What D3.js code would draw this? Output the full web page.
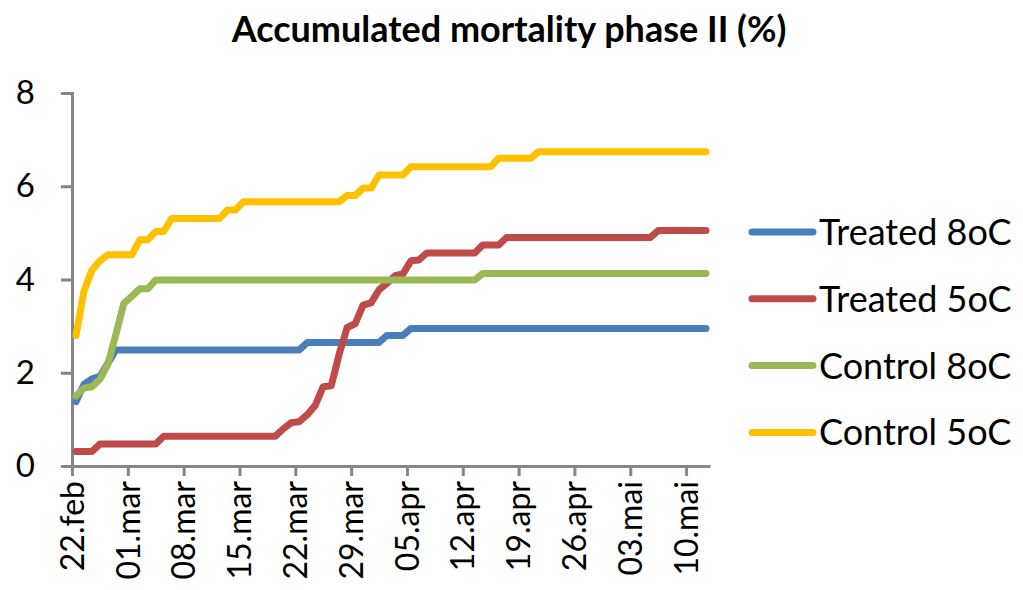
<!DOCTYPE html>
<html>
<head>
<meta charset="utf-8">
<script src="https://cdn.jsdelivr.net/npm/d3@7"></script>
<style>
  body { margin: 0; background: #fff; }
  svg { display: block; font-family: Lato, "Open Sans", sans-serif; }
</style>
</head>
<body>
<svg id="chart"></svg>
<script>
var width = 1023;
var height = 590;

// one value per day, starting 22.feb (80 days)
var startDate = new Date(2011, 1, 22);
var dayCount = 80;
var tickLabels = ['22.feb', '01.mar', '08.mar', '15.mar', '22.mar', '29.mar',
  '05.apr', '12.apr', '19.apr', '26.apr', '03.mai', '10.mai'];
var yTicks = [0, 2, 4, 6, 8];

var treated8 = [1.38, 1.75, 1.87, 1.92, 2.2,
  2.49, 2.49, 2.49, 2.49, 2.49, 2.49, 2.49, 2.49, 2.49, 2.49, 2.49, 2.49,
  2.49, 2.49, 2.49, 2.49, 2.49, 2.49, 2.49, 2.49, 2.49, 2.49, 2.49, 2.49,
  2.65, 2.65, 2.65, 2.65, 2.65, 2.65, 2.65, 2.65, 2.65, 2.65,
  2.8, 2.8, 2.8,
  2.95, 2.95, 2.95, 2.95, 2.95, 2.95, 2.95, 2.95, 2.95, 2.95, 2.95, 2.95,
  2.95, 2.95, 2.95, 2.95, 2.95, 2.95, 2.95, 2.95, 2.95, 2.95, 2.95, 2.95,
  2.95, 2.95, 2.95, 2.95, 2.95, 2.95, 2.95, 2.95, 2.95, 2.95, 2.95, 2.95,
  2.95, 2.95];
var treated5 = [0.31, 0.31, 0.31,
  0.47, 0.47, 0.47, 0.47, 0.47, 0.47, 0.47, 0.47,
  0.64, 0.64, 0.64, 0.64, 0.64, 0.64, 0.64, 0.64, 0.64, 0.64, 0.64, 0.64,
  0.64, 0.64, 0.64,
  0.8, 0.93, 0.95, 1.1, 1.3, 1.7, 1.72, 2.4, 2.97, 3.05, 3.45, 3.5, 3.78,
  3.92, 4.08, 4.12, 4.4, 4.42,
  4.57, 4.57, 4.57, 4.57, 4.57, 4.57, 4.57,
  4.74, 4.74, 4.74,
  4.9, 4.9, 4.9, 4.9, 4.9, 4.9, 4.9, 4.9, 4.9, 4.9, 4.9, 4.9, 4.9, 4.9,
  4.9, 4.9, 4.9, 4.9, 4.9,
  5.05, 5.05, 5.05, 5.05, 5.05, 5.05, 5.05];
var control8 = [1.5, 1.67, 1.7, 1.86, 2.18, 2.82, 3.49, 3.64, 3.8, 3.8,
  3.99, 3.99, 3.99, 3.99, 3.99, 3.99, 3.99, 3.99, 3.99, 3.99, 3.99, 3.99,
  3.99, 3.99, 3.99, 3.99, 3.99, 3.99, 3.99, 3.99, 3.99, 3.99, 3.99, 3.99,
  3.99, 3.99, 3.99, 3.99, 3.99, 3.99, 3.99, 3.99, 3.99, 3.99, 3.99, 3.99,
  3.99, 3.99, 3.99, 3.99, 3.99,
  4.13, 4.13, 4.13, 4.13, 4.13, 4.13, 4.13, 4.13, 4.13, 4.13, 4.13, 4.13,
  4.13, 4.13, 4.13, 4.13, 4.13, 4.13, 4.13, 4.13, 4.13, 4.13, 4.13, 4.13,
  4.13, 4.13, 4.13, 4.13, 4.13];
var control5 = [2.8, 3.75, 4.2, 4.4,
  4.53, 4.53, 4.53, 4.53,
  4.85, 4.85,
  5.03, 5.03,
  5.31, 5.31, 5.31, 5.31, 5.31, 5.31, 5.31,
  5.49, 5.49,
  5.67, 5.67, 5.67, 5.67, 5.67, 5.67, 5.67, 5.67, 5.67, 5.67, 5.67, 5.67, 5.67,
  5.8, 5.8,
  5.96, 5.96,
  6.24, 6.24, 6.24, 6.24,
  6.42, 6.42, 6.42, 6.42, 6.42, 6.42, 6.42, 6.42, 6.42, 6.42, 6.42,
  6.6, 6.6, 6.6, 6.6, 6.6,
  6.74, 6.74, 6.74, 6.74, 6.74, 6.74, 6.74, 6.74, 6.74, 6.74, 6.74, 6.74,
  6.74, 6.74, 6.74, 6.74, 6.74, 6.74, 6.74, 6.74, 6.74, 6.74];

var seriesNames = ['Treated 8oC', 'Treated 5oC', 'Control 8oC', 'Control 5oC'];
var seriesColors = ['#4a7ebb', '#be4b48', '#98b954', '#ffc000'];
var seriesValues = [treated8, treated5, control8, control5];

var series = seriesNames.map(function(name, i) {
  return { name: name, color: seriesColors[i], values: seriesValues[i] };
});

var axisColor = '#868686';
var svg = d3.select('#chart').attr('width', width).attr('height', height);

// category axis: ticks sit between days, one labelled tick per week
var x = d3.scaleLinear().domain([-0.5, dayCount - 0.5]).range([72, 710]);
var y = d3.scaleLinear().domain([0, 8]).range([466, 93]);

svg.append('text')
  .attr('x', 509)
  .attr('y', 42)
  .attr('text-anchor', 'middle')
  .style('font-size', '36px')
  .style('font-weight', 'bold')
  .text('Accumulated mortality phase II (%)');

// y axis
var yAxis = svg.append('g')
  .attr('transform', 'translate(' + x.range()[0] + ',0)')
  .call(d3.axisLeft(y).tickValues(yTicks).tickSize(11).tickPadding(26).tickFormat(d3.format('d')));
yAxis.select('.domain').attr('stroke', axisColor).attr('stroke-width', 3);
yAxis.selectAll('.tick line').attr('stroke', axisColor).attr('stroke-width', 3);
yAxis.selectAll('.tick text')
  .attr('fill', '#000')
  .style('font-size', '33px')
  .style('font-family', 'Lato, sans-serif');

// x axis
var weekTicks = tickLabels.map(function(d, i) { return i * 7 - 0.5; });
var xAxis = svg.append('g')
  .attr('transform', 'translate(0,' + y(0) + ')')
  .call(d3.axisBottom(x).tickValues(weekTicks).tickSize(10).tickSizeOuter(0)
    .tickFormat(function(d, i) { return tickLabels[i]; }));
xAxis.select('.domain').attr('stroke', axisColor).attr('stroke-width', 3);
xAxis.selectAll('.tick line').attr('stroke', axisColor).attr('stroke-width', 3);
xAxis.selectAll('.tick text')
  .attr('fill', '#000')
  .attr('transform', 'rotate(-90)')
  .attr('x', -15)
  .attr('y', 0)
  .attr('dy', '0.35em')
  .attr('text-anchor', 'end')
  .style('font-size', '32px')
  .style('font-family', 'Lato, sans-serif');

// lines
var line = d3.line()
  .x(function(d, i) { return x(i); })
  .y(function(d) { return y(d); });

svg.selectAll('.series').data(series).enter()
  .append('path')
  .classed('series', true)
  .attr('d', function(d) { return line(d.values); })
  .attr('fill', 'none')
  .attr('stroke', function(d) { return d.color; })
  .attr('stroke-width', 7)
  .attr('stroke-linejoin', 'round')
  .attr('stroke-linecap', 'round');

// legend
var legend = svg.selectAll('.legend-item').data(series).enter()
  .append('g')
  .classed('legend-item', true)
  .attr('transform', function(d, i) { return 'translate(752,' + (232 + i * 66.8) + ')'; });
legend.append('line')
  .attr('x1', 0).attr('x2', 61)
  .attr('stroke', function(d) { return d.color; })
  .attr('stroke-width', 7)
  .attr('stroke-linecap', 'round');
legend.append('text')
  .attr('x', 67)
  .attr('dy', '0.36em')
  .style('font-size', '36px')
  .text(function(d) { return d.name; });
</script>
</body>
</html>
